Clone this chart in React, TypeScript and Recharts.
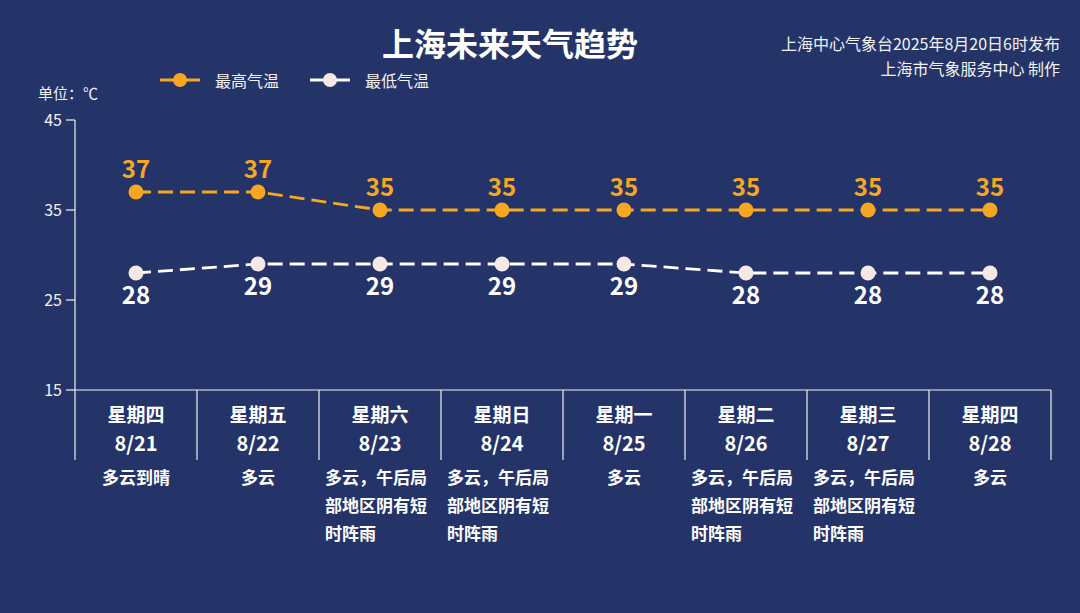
import React from 'react';
import { LineChart, Line, XAxis, YAxis, LabelList, Legend } from 'recharts';

const days = ['星期四', '星期五', '星期六', '星期日', '星期一', '星期二', '星期三', '星期四'];
const dates = ['8/21', '8/22', '8/23', '8/24', '8/25', '8/26', '8/27', '8/28'];
const weather = [
  '多云到晴',
  '多云',
  '多云，午后局部地区阴有短时阵雨',
  '多云，午后局部地区阴有短时阵雨',
  '多云',
  '多云，午后局部地区阴有短时阵雨',
  '多云，午后局部地区阴有短时阵雨',
  '多云',
];
const highs = [37, 37, 35, 35, 35, 35, 35, 35];
const lows = [28, 29, 29, 29, 29, 28, 28, 28];
const yTicks = [15, 25, 35, 45];

const data = dates.map((d, i) => ({ date: d, day: days[i], weather: weather[i], high: highs[i], low: lows[i] }));

const W = 1080;
const H = 613;
const M = { top: 120, right: 29, left: 15, bottom: 63 };
const YW = 60;
const XH = 160;
const PLOT_W = W - M.left - M.right - YW;
const BAND = PLOT_W / data.length;

const BG = '#243468';
const ORANGE = '#f5a722';
const WHITE = '#f4f1f0';
const FONT = '"Noto Sans CJK SC", "Noto Sans", sans-serif';

const splitLines = (s: string, n: number) => {
  const out: string[] = [];
  for (let i = 0; i < s.length; i += n) out.push(s.slice(i, i + n));
  return out;
};

const XTick = (props: any) => {
  const { x, y, payload, index } = props;
  const row = data[index] || data.find((r) => r.date === payload.value);
  const lines = splitLines(row.weather, 6);
  const multi = lines.length > 1;
  const startX = multi ? x - 55 : x;
  return (
    <g>
      <line x1={x - BAND / 2} y1={y} x2={x - BAND / 2} y2={y + 70} stroke={WHITE} strokeWidth={1.2} />
      {index === data.length - 1 && (
        <line x1={x + BAND / 2} y1={y} x2={x + BAND / 2} y2={y + 70} stroke={WHITE} strokeWidth={1.2} />
      )}
      <text x={x} y={y + 32} textAnchor="middle" fill="#ffffff" fontSize={19} fontWeight="bold" fontFamily={FONT}>
        {row.day}
      </text>
      <text x={x} y={y + 61} textAnchor="middle" fill="#ffffff" fontSize={20} fontWeight="bold" fontFamily={FONT}>
        {row.date}
      </text>
      {lines.map((l, i) => (
        <text
          key={i}
          x={startX}
          y={y + 94 + i * 28}
          textAnchor={multi ? 'start' : 'middle'}
          fill="#ffffff"
          fontSize={17}
          fontWeight="bold"
          fontFamily={FONT}
        >
          {l}
        </text>
      ))}
    </g>
  );
};

const LegendContent = () => {
  const items = [
    { name: '最高气温', color: ORANGE, dot: ORANGE },
    { name: '最低气温', color: '#ffffff', dot: '#f6e9e5' },
  ];
  return (
    <div style={{ display: 'flex', alignItems: 'center', fontFamily: FONT, height: 22 }}>
      {items.map((it) => (
        <div key={it.name} style={{ display: 'flex', alignItems: 'center', marginRight: 31 }}>
          <svg width={40} height={16} style={{ display: 'block' }}>
            <line x1={0} y1={8} x2={40} y2={8} stroke={it.color} strokeWidth={3} />
            <circle cx={20} cy={8} r={7} fill={it.dot} />
          </svg>
          <span style={{ color: '#f2f2f2', fontSize: 16, marginLeft: 15, lineHeight: '22px' }}>{it.name}</span>
        </div>
      ))}
    </div>
  );
};

export default function App() {
  return (
    <div style={{ position: 'absolute', left: 0, top: 0, width: W, height: H, background: BG, overflow: 'hidden', fontFamily: FONT }}>
      <div style={{ position: 'absolute', left: 0, width: W - 60, top: 18, textAlign: 'center', color: '#ffffff', fontSize: 32, lineHeight: '48px', fontWeight: 'bold' }}>
        上海未来天气趋势
      </div>
      <div style={{ position: 'absolute', right: 20, top: 31, textAlign: 'right', color: '#f2f2f2', fontSize: 16, lineHeight: '25px' }}>
        <div>上海中心气象台2025年8月20日6时发布</div>
        <div>上海市气象服务中心 制作</div>
      </div>
      <div style={{ position: 'absolute', left: 38, top: 83, color: '#f2f2f2', fontSize: 15, lineHeight: '20px' }}>单位：℃</div>
      <LineChart width={W} height={H} data={data} margin={M}>
        <Legend
          verticalAlign="middle"
          align="center"
          layout="horizontal"
          wrapperStyle={{ top: 69, left: 160, width: 400 }}
          content={<LegendContent />}
        />
        <YAxis
          width={YW}
          domain={[15, 45]}
          ticks={yTicks}
          interval={0}
          axisLine={{ stroke: WHITE, strokeWidth: 1.2 }}
          tickLine={{ stroke: WHITE, strokeWidth: 1.2 }}
          tickSize={9}
          tickMargin={4}
          tick={{ fill: '#f2f2f2', fontSize: 16, fontFamily: FONT }}
        />
        <XAxis
          dataKey="date"
          height={XH}
          interval={0}
          padding={{ left: BAND / 2, right: BAND / 2 }}
          axisLine={{ stroke: WHITE, strokeWidth: 1.2 }}
          tickLine={false}
          tickSize={0}
          tickMargin={0}
          tick={<XTick />}
        />
        <Line
          dataKey="high"
          name="最高气温"
          type="linear"
          stroke={ORANGE}
          strokeWidth={2.8}
          strokeDasharray="15 7"
          dot={{ r: 7.5, fill: ORANGE, stroke: 'none' }}
          isAnimationActive={false}
        >
          <LabelList dataKey="high" position="top" offset={14} fill={ORANGE} fontSize={24} fontWeight="bold" fontFamily={FONT} />
        </Line>
        <Line
          dataKey="low"
          name="最低气温"
          type="linear"
          stroke="#ffffff"
          strokeWidth={2.8}
          strokeDasharray="15 7"
          dot={{ r: 7.5, fill: '#f6e9e5', stroke: 'none' }}
          isAnimationActive={false}
        >
          <LabelList dataKey="low" position="bottom" offset={14} fill="#ffffff" fontSize={24} fontWeight="bold" fontFamily={FONT} />
        </Line>
      </LineChart>
    </div>
  );
}
